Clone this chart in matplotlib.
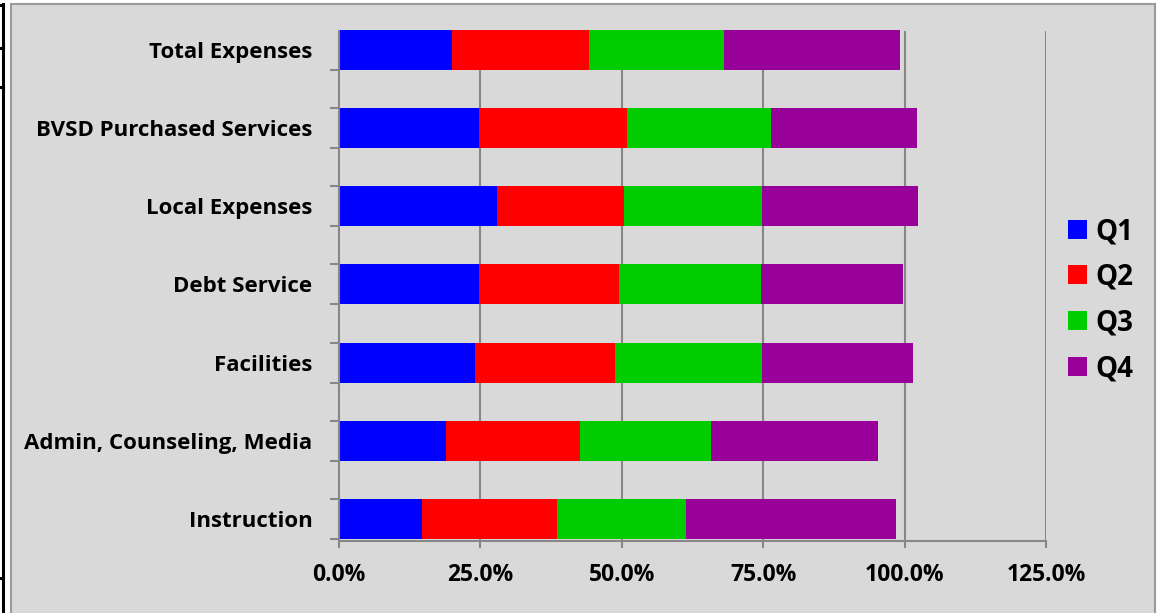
import matplotlib
matplotlib.use("Agg")
import matplotlib.pyplot as plt
from matplotlib.patches import Rectangle
from matplotlib.lines import Line2D
from matplotlib.ticker import FuncFormatter, FixedLocator

categories = ["Instruction", "Admin, Counseling, Media", "Facilities", "Debt Service",
              "Local Expenses", "BVSD Purchased Services", "Total Expenses"]
q1 = [14.7, 18.9, 24.0, 24.8, 27.9, 24.8, 20.0]
q2 = [23.9, 23.7, 24.8, 24.7, 22.5, 26.1, 24.2]
q3 = [22.8, 23.2, 26.0, 25.1, 24.4, 25.5, 23.9]
q4 = [37.0, 29.5, 26.7, 25.1, 27.6, 25.8, 31.1]
series_names = ["Q1", "Q2", "Q3", "Q4"]
series_colors = ["#0000FF", "#FF0000", "#00CC00", "#990099"]
xticks = [0, 25, 50, 75, 100, 125]

FONT = "Open Sans"

W, H = 1163, 613
fig = plt.figure(figsize=(W / 100, H / 100), dpi=100)
fig.patch.set_facecolor("white")

def fx(px):
    return px / W

def fy(py):
    return (H - py) / H

# chart panel
fig.patches.append(Rectangle((fx(11), fy(620)), fx(1155) - fx(11), fy(4) - fy(620),
                             transform=fig.transFigure, facecolor="#D9D9D9",
                             edgecolor="#9A9A9A", linewidth=1.5, zorder=-10))
# left black cell borders
fig.lines.append(Line2D([fx(2.5), fx(2.5)], [fy(4), fy(613)], transform=fig.transFigure,
                        color="black", linewidth=2.2, zorder=-5))
for yy in [5, 48, 87, 578]:
    fig.lines.append(Line2D([fx(0), fx(3)], [fy(yy), fy(yy)], transform=fig.transFigure,
                            color="black", linewidth=2.2, zorder=-5))

ax = fig.add_axes([fx(339), fy(541), fx(1046) - fx(339), fy(31) - fy(541)])
ax.set_facecolor("none")
ax.set_zorder(1)

ypos = list(range(len(categories)))
left = [0.0] * len(categories)
handles = []
for name, vals, col in zip(series_names, [q1, q2, q3, q4], series_colors):
    b = ax.barh(ypos, vals, left=left, height=0.51, color=col, label=name,
                clip_on=False, zorder=3)
    handles.append(b)
    left = [l + v for l, v in zip(left, vals)]

ax.set_xlim(0, 125)
ax.set_ylim(-0.281, 6.24)

for x in xticks[1:]:
    ax.axvline(x, color="#878787", linewidth=1.5, zorder=1)

ax.set_xticks(xticks)
ax.xaxis.set_major_formatter(FuncFormatter(lambda v, p: f"{v:.1f}%"))
ax.tick_params(axis="x", length=5, width=1.5, color="#878787", pad=10.5,
               labelsize=16.5)
for lab in ax.get_xticklabels():
    lab.set_fontfamily(FONT)
    lab.set_fontweight("bold")

ax.set_yticks(ypos)
ax.set_yticklabels(categories)
ax.yaxis.set_minor_locator(FixedLocator([p + d for p in ypos for d in (-0.255, 0.255)]))
ax.tick_params(axis="y", which="major", length=0, pad=19, labelsize=16)
ax.tick_params(axis="y", which="minor", length=6.5, width=1.5, color="#878787")
for lab in ax.get_yticklabels():
    lab.set_fontfamily(FONT)
    lab.set_fontweight("bold")

for s in ["top", "right"]:
    ax.spines[s].set_visible(False)
for s in ["left", "bottom"]:
    ax.spines[s].set_color("#878787")
    ax.spines[s].set_linewidth(1.5)
    ax.spines[s].set_zorder(4)

leg = fig.legend(handles=handles, labels=series_names, loc="center left",
                 bbox_to_anchor=(fx(1068), fy(300)), frameon=False,
                 handlelength=0.68, handleheight=0.68, handletextpad=0.3,
                 borderpad=0, borderaxespad=0,
                 labelspacing=0.6, prop={"family": FONT, "weight": "bold", "size": 20})

fig.savefig("out.png", dpi=100, facecolor=fig.get_facecolor())
